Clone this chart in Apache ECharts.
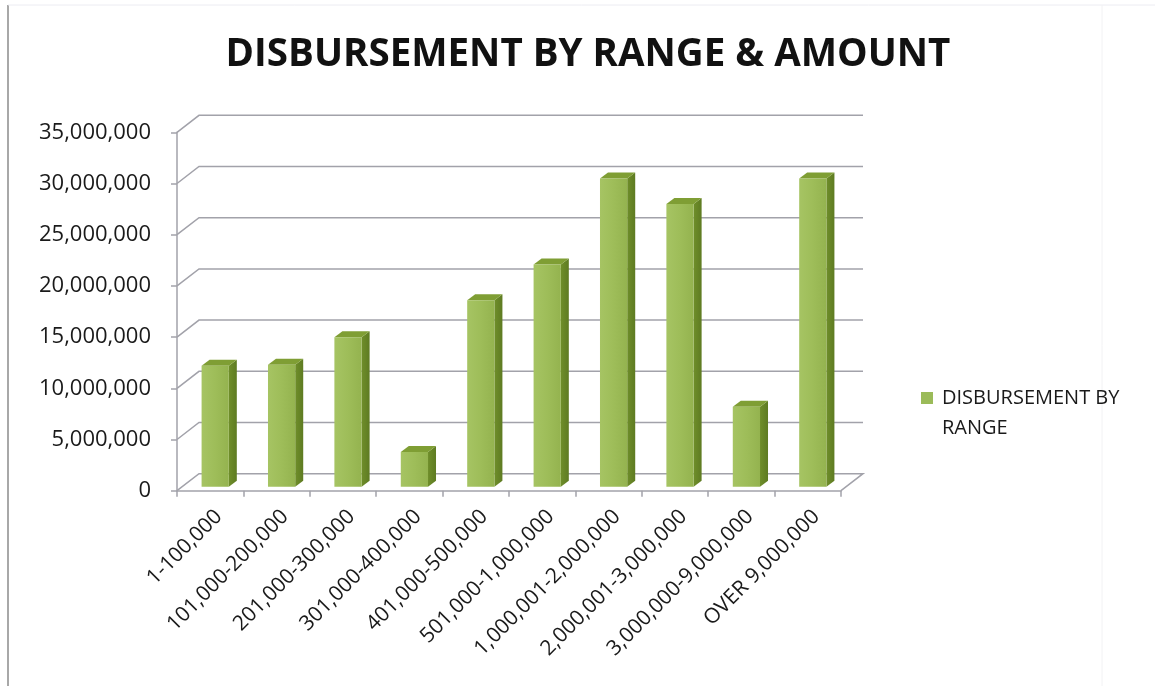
<!DOCTYPE html>
<html>
<head>
<meta charset="utf-8">
<title>Disbursement by Range &amp; Amount</title>
<script src="https://cdn.jsdelivr.net/npm/echarts@6/dist/echarts.min.js"></script>
<style>
  html, body { margin: 0; padding: 0; background: #ffffff; }
  #chart { width: 1155px; height: 686px; }
</style>
</head>
<body>
<div id="chart"></div>
<script>
// Disbursement ranges (category axis)
const categories = [
  '1-100,000', '101,000-200,000', '201,000-300,000', '301,000-400,000',
  '401,000-500,000', '501,000-1,000,000', '1,000,001-2,000,000',
  '2,000,001-3,000,000', '3,000,000-9,000,000', 'OVER 9,000,000'
];
// Amount disbursed per range
const disbursement = [
  11800000, 11900000, 14600000, 3400000, 18200000,
  21700000, 30100000, 27600000, 7800000, 30100000
];
// Value axis ticks
const yTicks = [0, 5000000, 10000000, 15000000, 20000000, 25000000, 30000000, 35000000];

const seriesName = 'DISBURSEMENT BY RANGE';
const FONT = "'Open Sans', 'Noto Sans', sans-serif";
const GRID_COLOR = '#a2a2aa';

// oblique depth of the chart box (back wall offset from the front plane)
const DEPTH_X = 22, DEPTH_Y = -17;
// bar placement inside the box and the bar's own depth
const BAR_SHIFT_X = 5, BAR_SHIFT_Y = -4;
const BAR_DX = 8, BAR_DY = -6;

const chart = echarts.init(document.getElementById('chart'), null, { renderer: 'canvas' });

// Side wall + back wall gridline for one value; the zero line also closes the floor
function renderWall(params, api) {
  const v = api.value(1);
  const band = api.size([1, 0])[0];
  const first = api.coord([0, v]);
  const last = api.coord([categories.length - 1, v]);
  const left = first[0] - band / 2;
  const right = last[0] + band / 2;
  const y = first[1];
  const pts = [
    [left, y],
    [left + DEPTH_X, y + DEPTH_Y],
    [right + DEPTH_X, y + DEPTH_Y]
  ];
  if (v === 0) pts.push([right, y]);
  return {
    type: 'polyline',
    shape: { points: pts },
    style: { stroke: GRID_COLOR, lineWidth: 1.5, fill: null }
  };
}

// 3-D column: front face, right side face and top face
function renderBar(params, api) {
  const i = api.value(0);
  const v = api.value(1);
  const base = api.coord([i, 0]);
  const top = api.coord([i, v]);
  const band = api.size([1, 0])[0];
  const w = band * 0.41;
  const cx = base[0] + BAR_SHIFT_X;
  const xl = cx - w / 2, xr = cx + w / 2;
  const yb = base[1] + BAR_SHIFT_Y, yt = top[1] + BAR_SHIFT_Y;
  return {
    type: 'group',
    children: [
      {
        type: 'polygon',
        shape: { points: [[xr, yt], [xr, yb], [xr + BAR_DX, yb + BAR_DY], [xr + BAR_DX, yt + BAR_DY]] },
        style: {
          fill: new echarts.graphic.LinearGradient(0, 0, 1, 0, [
            { offset: 0, color: '#6f8e2a' },
            { offset: 1, color: '#5e7b22' }
          ])
        }
      },
      {
        type: 'polygon',
        shape: { points: [[xl, yt], [xr, yt], [xr + BAR_DX, yt + BAR_DY], [xl + BAR_DX, yt + BAR_DY]] },
        style: { fill: '#7f9e34' }
      },
      {
        type: 'rect',
        shape: { x: xl, y: yt, width: w, height: yb - yt },
        style: {
          fill: new echarts.graphic.LinearGradient(0, 0, 1, 0, [
            { offset: 0, color: '#a6c463' },
            { offset: 0.5, color: '#9ebd59' },
            { offset: 1, color: '#94b34f' }
          ])
        }
      }
    ]
  };
}

const option = {
  backgroundColor: '#ffffff',
  animation: false,
  title: {
    text: 'DISBURSEMENT BY RANGE & AMOUNT',
    left: 583,
    top: 31,
    textAlign: 'center',
    textStyle: { fontFamily: FONT, fontWeight: 'bold', fontSize: 38.5, color: '#111111' }
  },
  legend: {
    data: [seriesName],
    left: 921,
    top: 353,
    padding: 0,
    icon: 'rect',
    itemWidth: 12,
    itemHeight: 12,
    // blank first line keeps the icon level with the first text line
    formatter: () => ' \nDISBURSEMENT BY\nRANGE',
    textStyle: {
      fontFamily: FONT, fontSize: 20, color: '#1a1a1a',
      lineHeight: 30, padding: [0, 0, 0, 4]
    }
  },
  grid: {
    left: 177,
    top: 132.3,
    width: 664,
    height: 358.4,
    containLabel: false
  },
  xAxis: {
    type: 'category',
    data: categories,
    boundaryGap: true,
    axisLine: { show: true, lineStyle: { color: GRID_COLOR, width: 1.5 } },
    axisTick: { show: true, length: 6, inside: false, lineStyle: { color: GRID_COLOR, width: 1.5 } },
    axisLabel: {
      interval: 0,
      rotate: 45,
      margin: 14,
      verticalAlign: 'top',
      lineHeight: 24,
      fontFamily: FONT,
      fontSize: 21,
      color: '#1a1a1a'
    },
    splitLine: { show: false }
  },
  yAxis: {
    type: 'value',
    min: 0,
    max: 35000000,
    interval: 5000000,
    axisLine: { show: true, lineStyle: { color: GRID_COLOR, width: 1.5 } },
    axisTick: { show: true, length: 6, inside: false, lineStyle: { color: GRID_COLOR, width: 1.5 } },
    axisLabel: {
      margin: 26,
      fontFamily: FONT,
      fontSize: 22,
      color: '#1a1a1a',
      formatter: (v) => v.toLocaleString('en-US')
    },
    splitLine: { show: false }
  },
  graphic: [
    { type: 'line', shape: { x1: 8, y1: 5, x2: 8, y2: 686 }, style: { stroke: '#a8a8a8', lineWidth: 2 }, z: -10 },
    { type: 'line', shape: { x1: 8, y1: 5, x2: 1155, y2: 5 }, style: { stroke: '#ececf2', lineWidth: 1 }, z: -10 },
    { type: 'line', shape: { x1: 1102, y1: 5, x2: 1102, y2: 686 }, style: { stroke: '#f2f2f4', lineWidth: 1 }, z: -10 }
  ],
  series: [
    {
      name: 'walls',
      type: 'custom',
      silent: true,
      z: 1,
      renderItem: renderWall,
      encode: { x: 0, y: 1 },
      data: yTicks.map((v) => [0, v])
    },
    {
      name: seriesName,
      type: 'custom',
      z: 5,
      itemStyle: { color: '#9bbb59' },
      renderItem: renderBar,
      encode: { x: 0, y: 1 },
      data: disbursement.map((v, i) => [i, v])
    }
  ]
};

chart.setOption(option);
</script>
</body>
</html>
